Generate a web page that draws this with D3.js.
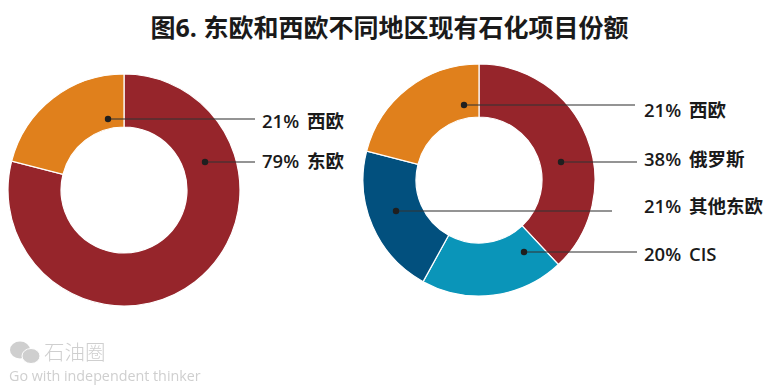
<!DOCTYPE html>
<html>
<head>
<meta charset="utf-8">
<script src="https://cdn.jsdelivr.net/npm/d3@7"></script>
<style>
  html, body { margin: 0; padding: 0; background: #fff; }
  svg { display: block; }
  text { font-family: "Open Sans", "Noto Sans CJK SC", sans-serif; }
</style>
</head>
<body>
<div id="chart"></div>
<script>
// values
const leftCategories = ["东欧", "西欧"];
const leftValues = [79, 21];
const leftLabelOrder = ["西欧", "东欧"];

const rightCategories = ["俄罗斯", "CIS", "其他东欧", "西欧"];
const rightValues = [38, 20, 21, 21];
const rightLabelOrder = ["西欧", "俄罗斯", "其他东欧", "CIS"];

const titleText = "图6. 东欧和西欧不同地区现有石化项目份额";

const sliceColors = {
  "东欧": "#96252b",
  "俄罗斯": "#96252b",
  "西欧": "#e0801c",
  "CIS": "#0a95b9",
  "其他东欧": "#02507e"
};

const width = 775, height = 388;

const svg = d3.select("#chart").append("svg")
  .attr("width", width)
  .attr("height", height);

svg.append("filter").attr("id", "soft")
  .append("feGaussianBlur").attr("stdDeviation", 0.5);

svg.append("text")
  .attr("x", 389.5)
  .attr("y", 37)
  .attr("text-anchor", "middle")
  .attr("font-size", 25)
  .attr("font-weight", 700)
  .attr("fill", "#1a1a1a")
  .text(titleText);

// dot = where the leader starts, end = where it stops, label = text x and baseline
const leftLeaders = {
  "西欧": {dot: [108, 119], end: 255, label: [262, 128]},
  "东欧": {dot: [205, 162], end: 255, label: [262, 168]}
};
const rightLeaders = {
  "西欧": {dot: [464, 105], end: 635, label: [644, 117]},
  "俄罗斯": {dot: [561, 162], end: 637, label: [644, 166]},
  "其他东欧": {dot: [396, 211], end: 612, label: [644, 213]},
  "CIS": {dot: [524, 252], end: 637, label: [644, 261]}
};

function drawDonut(cx, cy, categories, values, labelOrder, leaders) {
  const g = svg.append("g").attr("transform", `translate(${cx},${cy})`);

  const pie = d3.pie().sort(null).value((d, i) => values[i]);
  const arc = d3.arc().innerRadius(63).outerRadius(116);

  g.selectAll("path.slice")
    .data(pie(categories))
    .join("path")
    .attr("class", "slice")
    .attr("d", arc)
    .attr("fill", d => sliceColors[d.data])
    .attr("stroke", "#fff")
    .attr("stroke-width", 1.2);

  const items = labelOrder.map(name => ({
    name: name,
    value: values[categories.indexOf(name)],
    pos: leaders[name]
  }));

  svg.selectAll(null)
    .data(items)
    .join("line")
    .attr("x1", d => d.pos.dot[0])
    .attr("y1", d => d.pos.dot[1])
    .attr("x2", d => d.pos.end)
    .attr("y2", d => d.pos.dot[1])
    .attr("stroke", "#333")
    .attr("stroke-opacity", 0.7)
    .attr("stroke-width", 1.6);

  svg.selectAll(null)
    .data(items)
    .join("circle")
    .attr("cx", d => d.pos.dot[0])
    .attr("cy", d => d.pos.dot[1])
    .attr("r", 3.2)
    .attr("fill", "#1f1f1f");

  svg.selectAll(null)
    .data(items)
    .join("text")
    .attr("x", d => d.pos.label[0])
    .attr("y", d => d.pos.label[1])
    .attr("font-size", 18.5)
    .attr("font-weight", 600)
    .attr("word-spacing", 3)
    .attr("fill", "#1a1a1a")
    .text(d => `${d.value}% ${d.name}`);
}

drawDonut(124, 190, leftCategories, leftValues, leftLabelOrder, leftLeaders);
drawDonut(479, 180, rightCategories, rightValues, rightLabelOrder, rightLeaders);

// watermark, bottom left
const mark = svg.append("g").attr("fill", "#cfcfcf").attr("filter", "url(#soft)");
mark.append("ellipse").attr("cx", 20).attr("cy", 350).attr("rx", 10).attr("ry", 8.5);
mark.append("ellipse").attr("cx", 31).attr("cy", 356).attr("rx", 9).attr("ry", 7.5)
  .attr("stroke", "#fff").attr("stroke-width", 1);
mark.append("text")
  .attr("x", 44).attr("y", 359.5)
  .attr("font-size", 20.5)
  .attr("font-weight", 300)
  .text("石油圈");
mark.append("text")
  .attr("x", 9).attr("y", 380.5)
  .attr("font-size", 14.3)
  .text("Go with independent thinker");
</script>
</body>
</html>
